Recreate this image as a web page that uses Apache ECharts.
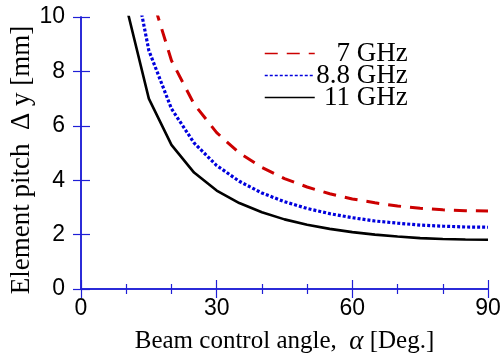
<!DOCTYPE html>
<html>
<head>
<meta charset="utf-8">
<script src="https://cdn.jsdelivr.net/npm/echarts@6/dist/echarts.min.js"></script>
<style>
  html, body { margin: 0; padding: 0; background: #fff; }
  #chart { width: 500px; height: 362px; }
</style>
</head>
<body>
<div id="chart"></div>
<script>
// beam control angle [deg]
const angles = [10, 15, 20, 25, 30, 35, 40, 45, 50, 55, 60, 65, 70, 75, 80, 85, 90];
// element pitch [mm]
const pitch7 = [null, 11.1, 8.4, 6.8, 5.75, 5.0, 4.47, 4.06, 3.75, 3.5, 3.31, 3.17, 3.05, 2.97, 2.91, 2.88, 2.87];
const pitch88 = [13.0, 8.77, 6.63, 5.37, 4.54, 3.96, 3.53, 3.21, 2.96, 2.77, 2.62, 2.5, 2.42, 2.35, 2.31, 2.28, 2.27];
const pitch11 = [10.4, 7.0, 5.3, 4.28, 3.62, 3.16, 2.82, 2.56, 2.36, 2.21, 2.09, 2.0, 1.93, 1.87, 1.84, 1.82, 1.81];
const xTicks = [0, 30, 60, 90];
const yTicks = [0, 2, 4, 6, 8, 10];

const axisBlue = '#1f1fd6';
const sans = 'Liberation Sans';
const serif = 'Liberation Serif';

const pairs = (ys) => angles.map((a, i) => [a, ys[i]]).filter((p) => p[1] != null);

const chart = echarts.init(document.getElementById('chart'));

const xBase = {
  type: 'value',
  min: xTicks[0],
  max: xTicks[xTicks.length - 1],
  interval: xTicks[1] - xTicks[0],
  axisLine: { lineStyle: { color: axisBlue, width: 1.5 } },
  axisTick: { inside: true, length: 9, lineStyle: { color: axisBlue, width: 1.2 } },
  minorTick: { show: true, splitNumber: 3, length: 5, lineStyle: { color: axisBlue, width: 1.2 } },
  splitLine: { show: false },
  minorSplitLine: { show: false },
};
const yBase = {
  type: 'value',
  min: yTicks[0],
  max: yTicks[yTicks.length - 1],
  interval: yTicks[1] - yTicks[0],
  axisLine: { lineStyle: { color: axisBlue, width: 1.5 } },
  axisTick: { inside: true, length: 9, lineStyle: { color: axisBlue, width: 1.2 } },
  splitLine: { show: false },
};

chart.setOption({
  animation: false,
  grid: { left: 81, right: 12, top: 17, bottom: 73, outerBoundsMode: 'none', containLabel: false },
  legend: {
    orient: 'vertical',
    left: 259,
    top: 35,
    itemWidth: 50,
    itemHeight: 14,
    itemGap: -5,
    lineStyle: { width: 1.5 },
    itemStyle: { opacity: 0 },
    formatter: (n) => '{t|' + n + '}',
    textStyle: {
      color: '#000',
      lineHeight: 22,
      rich: { t: { width: 88, align: 'right', fontFamily: serif, fontSize: 27, lineHeight: 22, color: '#000' } },
    },
  },
  xAxis: [
    Object.assign({}, xBase, {
      position: 'bottom',
      axisLabel: { margin: 8, fontFamily: sans, fontSize: 23, color: '#000' },
      name: 'Beam control angle,  {i|α} [Deg.]',
      nameLocation: 'middle',
      nameGap: 39,
      nameTextStyle: {
        fontFamily: serif, fontSize: 25, color: '#000',
        rich: { i: { fontFamily: serif, fontStyle: 'italic', fontSize: 27, color: '#000' } },
      },
    }),
    Object.assign({}, xBase, { position: 'top', axisLabel: { show: false } }),
  ],
  yAxis: [
    Object.assign({}, yBase, {
      position: 'left',
      axisLabel: { margin: 16, fontFamily: sans, fontSize: 23, color: '#000' },
      name: 'Element pitch  Δ y [mm]',
      nameLocation: 'middle',
      nameGap: 46,
      nameMoveOverlap: false,
      nameTextStyle: { fontFamily: serif, fontSize: 27, color: '#000', padding: [0, 14, 0, 0] },
    }),
    Object.assign({}, yBase, { position: 'right', axisTick: Object.assign({}, yBase.axisTick, { length: 8 }), axisLabel: { show: false } }),
  ],
  series: [
    {
      name: '7 GHz', type: 'line', data: pairs(pitch7), symbol: 'none', clip: true,
      lineStyle: { color: '#cc0000', width: 3, type: [13, 9] },
      itemStyle: { color: '#cc0000' },
    },
    {
      name: '8.8 GHz', type: 'line', data: pairs(pitch88), symbol: 'none', clip: true,
      lineStyle: { color: '#0000dd', width: 3.2, type: [3, 2] },
      itemStyle: { color: '#0000dd' },
    },
    {
      name: '11 GHz', type: 'line', data: pairs(pitch11), symbol: 'none', clip: true,
      lineStyle: { color: '#000', width: 2.6 },
      itemStyle: { color: '#000' },
    },
  ],
});
</script>
</body>
</html>
